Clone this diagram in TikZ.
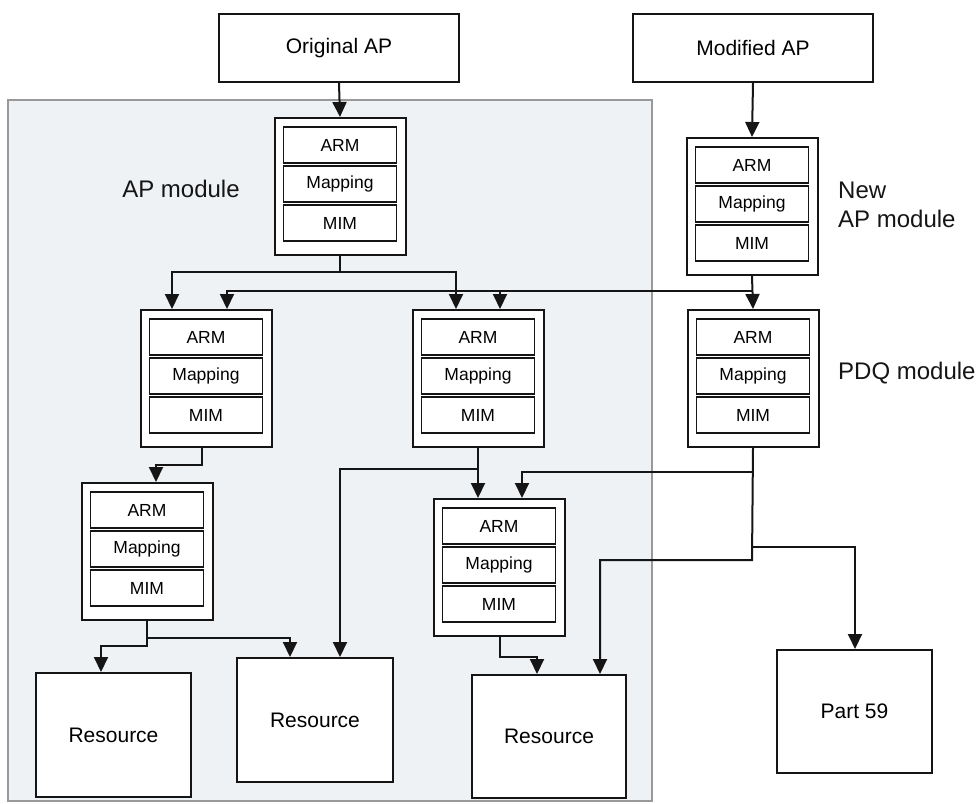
\documentclass[tikz,border=0pt]{standalone}
\usepackage{fontspec}
\setmainfont{Liberation Sans}
\usetikzlibrary{arrows.meta,calc}
\definecolor{shadebg}{HTML}{EEF2F5}
\definecolor{ink}{HTML}{151515}
\tikzset{
  box/.style={draw=ink, line width=2pt, fill=white, inner sep=0pt, font=\fontsize{21}{25}\selectfont},
  outerbox/.style={draw=ink, line width=2pt, fill=white, minimum width=131pt, minimum height=137pt, inner sep=0pt},
  cell/.style={draw=ink, line width=1.5pt, fill=white, minimum width=113pt, minimum height=36pt, inner sep=0pt, font=\fontsize{17.5}{20}\selectfont},
  wire/.style={draw=ink, line width=2pt},
  conn/.style={wire, -{Triangle[length=15pt,width=14pt]}},
  lbl/.style={font=\fontsize{24}{29}\selectfont, inner sep=0pt, align=left, text=ink}
}
\newcommand\mkmodule[3]{%
  \node[outerbox, anchor=north] (#1) at (#2,#3) {};
  \node[cell] (#1arm) at (#2,#3+28) {ARM};
  \node[cell] (#1map) at (#2,#3+67) {Mapping};
  \node[cell] (#1mim) at (#2,#3+106) {MIM};
}
\begin{document}
\begin{tikzpicture}[x=1pt,y=-1pt]
\useasboundingbox (0,0) rectangle (979,803);
% shaded area
\draw[draw=gray!80, line width=1.2pt, fill=shadebg] (8,100) rectangle (652,801);

% top boxes
\node[box, minimum width=240pt, minimum height=68pt] (oap) at (339,48) {Original AP};
\node[box, minimum width=240pt, minimum height=68pt] (map) at (753,48) {Modified AP};

% modules
\mkmodule{m1}{340}{117}
\mkmodule{nap}{752}{137}
\mkmodule{m2}{206}{309}
\mkmodule{m3}{478}{309}
\mkmodule{pdq}{753}{309}
\mkmodule{m4}{147}{482}
\mkmodule{m5}{499}{498}

% resources
\node[box, minimum width=155pt, minimum height=124pt] (r1) at (113.5,735) {Resource};
\node[box, minimum width=156pt, minimum height=124pt] (r2) at (315,720) {Resource};
\node[box, minimum width=154pt, minimum height=123pt] (r3) at (549,736.5) {Resource};
\node[box, minimum width=155pt, minimum height=123pt] (p59) at (854.5,711.5) {Part 59};

% labels
\node[lbl, anchor=center] (lapm) at (181,189) {AP module};
\node[lbl, anchor=west] (lnew) at (838,205) {New\\AP module};
\node[lbl, anchor=west] (lpdq) at (838,373) {PDQ module};

% connectors
\draw[conn] (oap.south) -- (m1.north);
\draw[conn] (map.south) -- (nap.north);

\coordinate (j1) at (340,272);
\draw[wire] (m1.south) -- (j1);
\draw[conn] (j1) -| ([xshift=-34pt]m2.north);
\draw[conn] (j1) -| ([xshift=-22pt]m3.north);

\coordinate (j2) at (752,291);
\coordinate (j3) at (500,291);
\draw[conn] (nap.south) -- (pdq.north);
\draw[conn] (j2) -| ([xshift=21pt]m2.north);
\draw[conn] (j3) -- ([xshift=22pt]m3.north);

\draw[conn] ([xshift=-4pt]m2.south) -- ++(0,17) -| ([xshift=9pt]m4.north);

\coordinate (j4) at (478,469);
\draw[conn] (m3.south) -- (m5.north -| m3.south);
\draw[conn] (j4) -| (r2.north -| 340,0);

\coordinate (j5) at (752,472);
\coordinate (j6) at (752,547);
\draw[conn] (pdq.south) -- (752,560) -| ([xshift=51pt]r3.north);
\draw[conn] (j5) -| ([xshift=23pt]m5.north);
\draw[conn] (j6) -| ([xshift=0.5pt]p59.north);

\coordinate (j7) at (147,638);
\draw[conn] (m4.south) -- (147,646) -| ([xshift=-12.5pt]r1.north);
\draw[conn] (j7) -| ([xshift=-25pt]r2.north);

\draw[conn] ([xshift=1pt]m5.south) -- ++(0,20) -| ([xshift=-12pt]r3.north);
\end{tikzpicture}
\end{document}
